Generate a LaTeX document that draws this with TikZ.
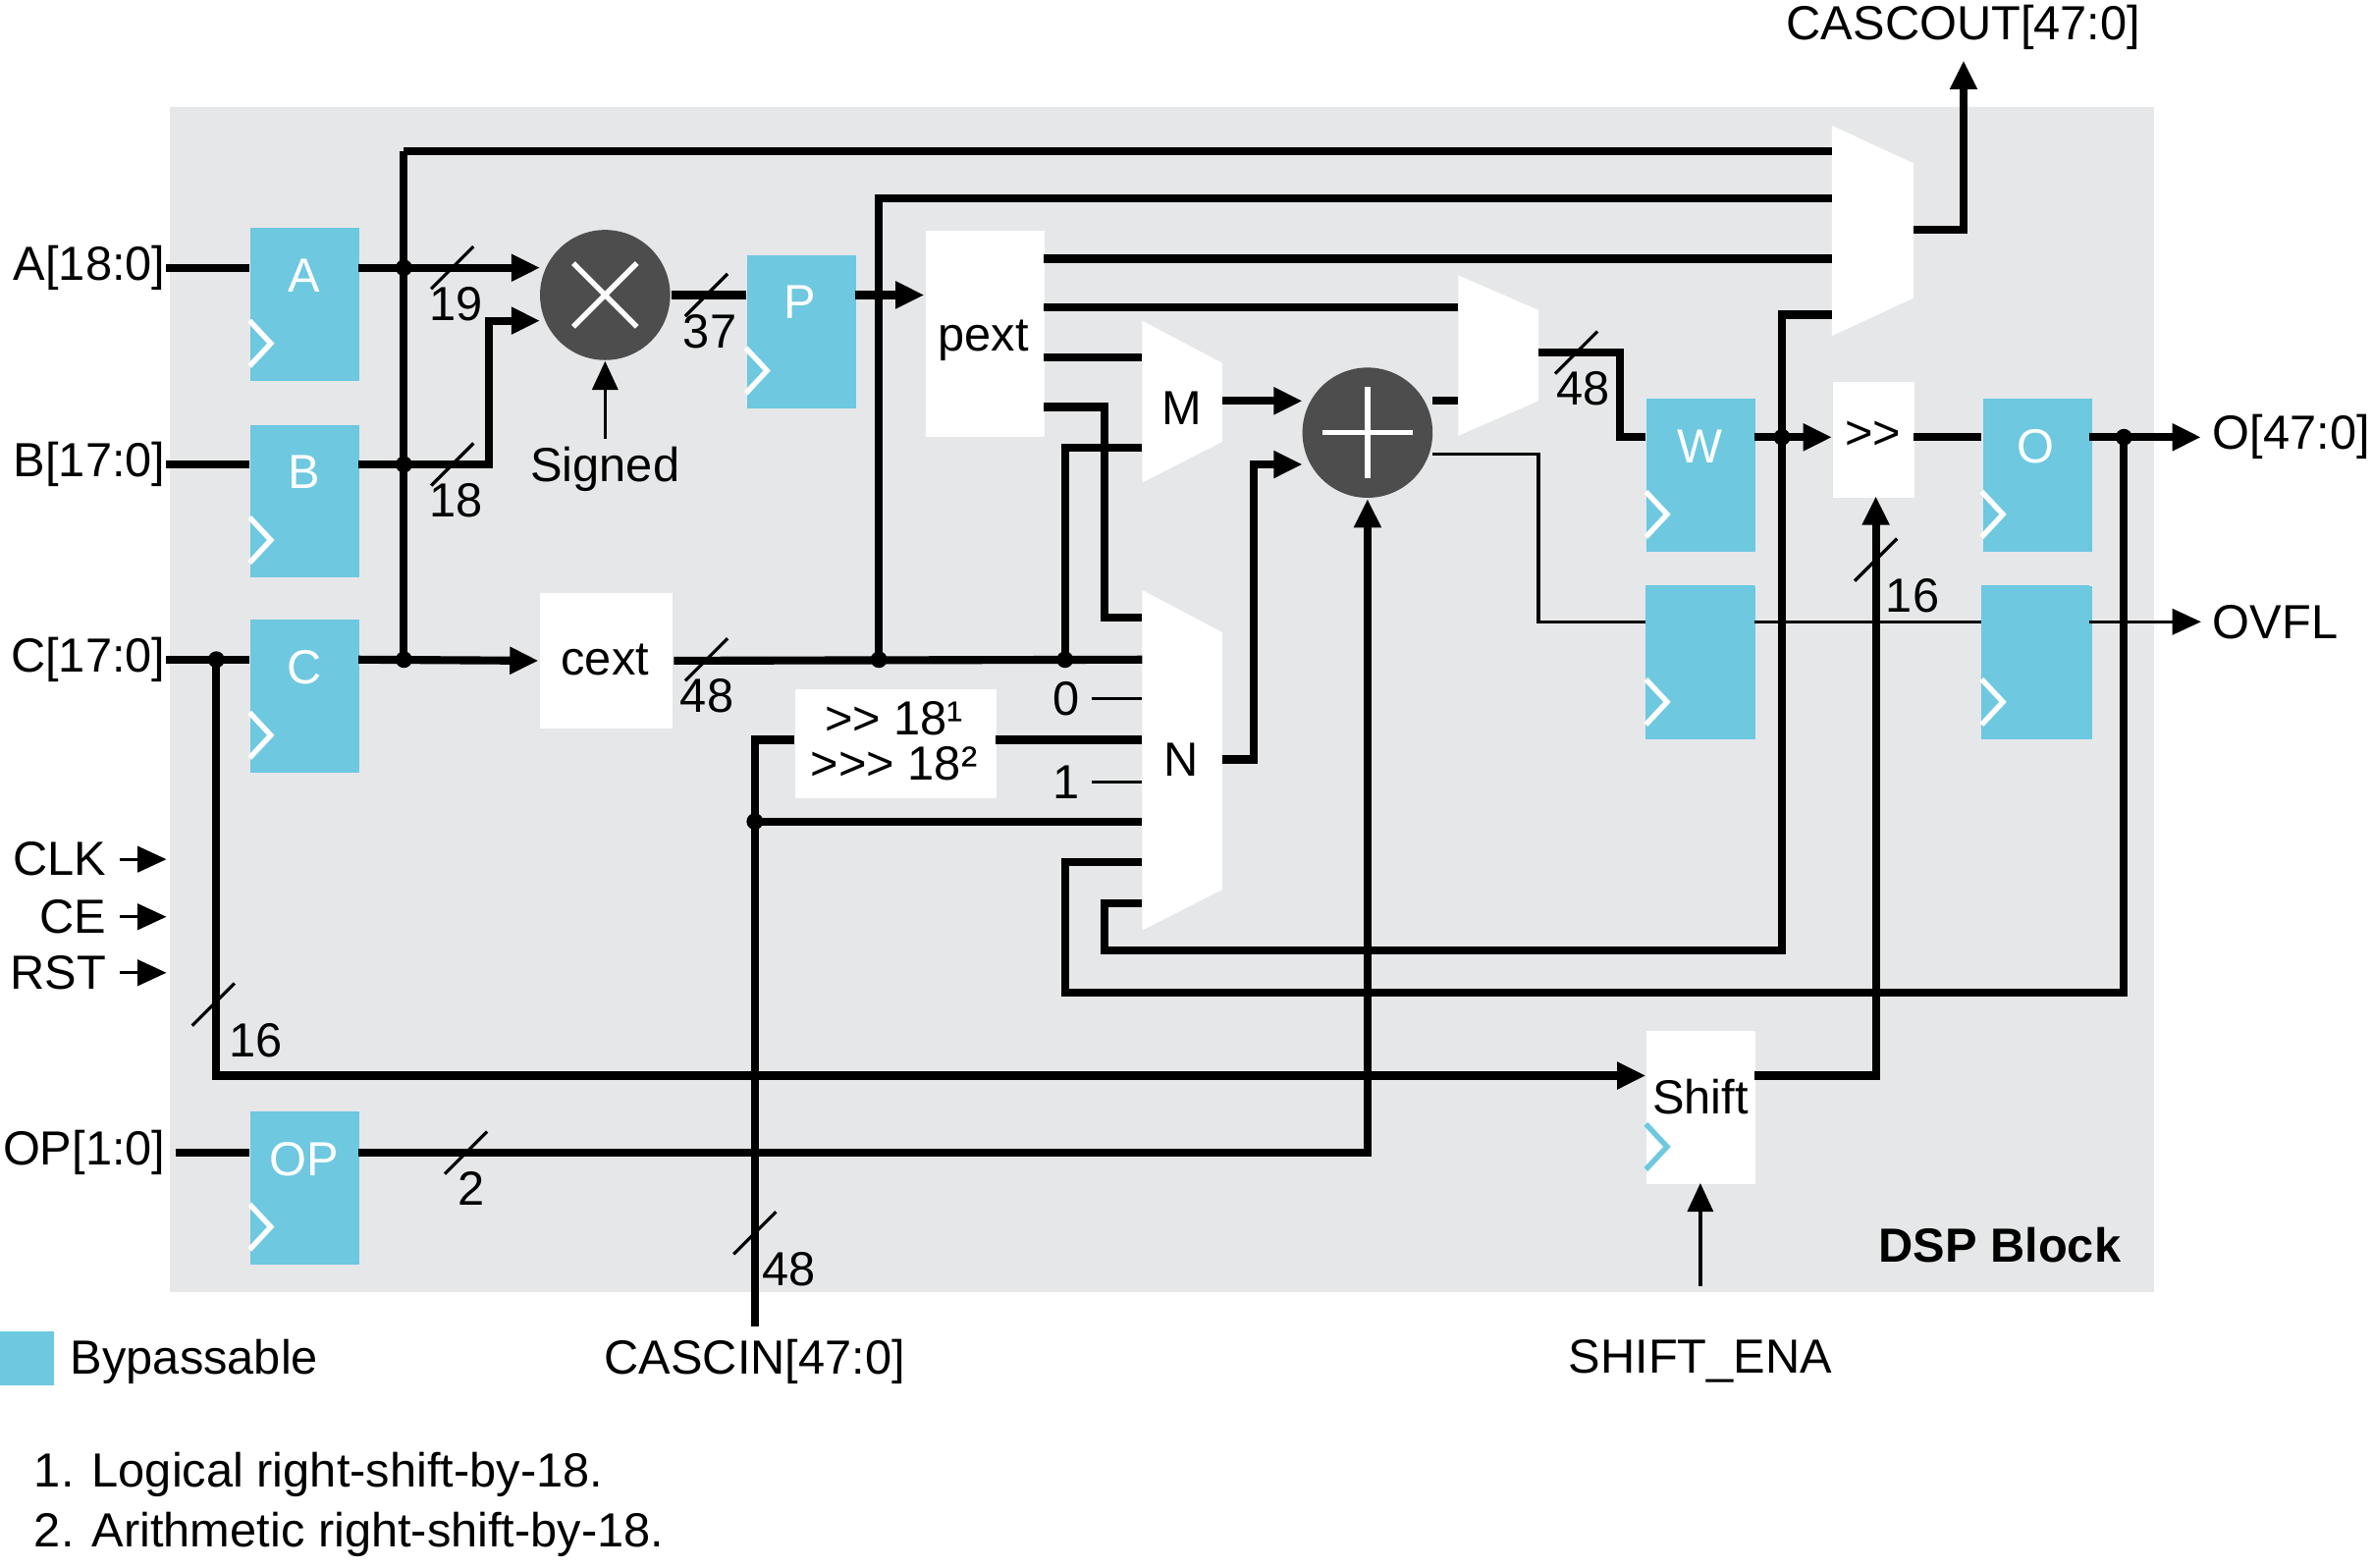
\documentclass[tikz,border=0pt]{standalone}
\usepackage{fontspec}
\setmainfont[Ligatures=NoCommon]{Liberation Sans}
\usetikzlibrary{arrows.meta,positioning}
\definecolor{bgray}{HTML}{E6E7E8}
\definecolor{bypass}{HTML}{6DC8E0}
\definecolor{opgray}{HTML}{4D4D4D}
\tikzset{
  wire/.style={line width=1.5pt},
  thin wire/.style={line width=0.6pt},
  tip/.style={-{Triangle[length=0.19cm,width=0.17cm]}},
  reg/.style={fill=bypass, draw=none, minimum width=0.72cm, minimum height=1.01cm, inner sep=0pt, anchor=north west},
  wbox/.style={fill=white, draw=none, inner sep=0pt, anchor=north west},
  op/.style={circle, fill=opgray, minimum size=0.86cm, inner sep=0pt},
  lbl/.style={font=\fontsize{9}{10}\selectfont, inner sep=0pt},
  dot/.style={circle, fill=black, minimum size=0.11cm, inner sep=0pt},
}
\newcommand\busslash[4]{%
  \draw[thin wire] (#1+-14,#2+14) -- (#1+14,#2+-14);
  \node[lbl, anchor=north west] at (#1+#4,#2+12) {#3};}
\newcommand\gt{{>}}
\begin{document}
\begin{tikzpicture}[x=0.01cm,y=-0.01cm]
\useasboundingbox (0,0) rectangle (1568,1036);
\fill[bgray] (112,71) rectangle (1424,854);

% Registers
\foreach \n/\x/\y/\t in {A/165/150/A,B/165/280/B,C/165/409/C,OP/165/734/OP,P/493/168/P,W/1088/263/W,Wo/1088/387/,O/1310/263/O,Oo/1310/387/} {
  \node[reg] (\n) at (\x,\y) {};
  \node[lbl, white] at (\x+36,\y+32) {\t};
  \draw[white, line width=1pt] (\x,\y+62) -- (\x+14,\y+77) -- (\x,\y+92);
}
% Shift register
\node[wbox, minimum width=0.72cm, minimum height=1.01cm] (shift) at (1088,681) {};
\node[lbl] at (1124,725) {Shift};
\draw[bypass, line width=1pt] (1088,743) -- (1102,758) -- (1088,773);

% Other blocks
\node[wbox, minimum width=0.79cm, minimum height=1.36cm] (pext) at (611,152) {};
\node[lbl] at (650,225) {pext};
\node[wbox, minimum width=0.88cm, minimum height=0.90cm] (cext) at (356,391) {};
\node[lbl] at (400,436) {cext};
\node[wbox, minimum width=1.33cm, minimum height=0.72cm] (sh18) at (525,455) {};
\node[lbl] at (591,475) {\gt\gt\ 18¹};
\node[lbl] at (591,505) {\gt\gt\gt\ 18²};
\node[wbox, minimum width=0.54cm, minimum height=0.76cm] (shr) at (1211,252) {};
\node[lbl] at (1238,288) {\gt\gt};

% Muxes
\fill[white] (755,212) -- (808,240) -- (808,292) -- (755,319) -- cycle;
\node[lbl] at (781,270) {M};
\fill[white] (755,390) -- (808,418) -- (808,588) -- (755,615) -- cycle;
\node[lbl] at (781,502) {N};
\fill[white] (964,182) -- (1017,205) -- (1017,265) -- (964,288) -- cycle;
\fill[white] (1211,83) -- (1265,108) -- (1265,197) -- (1211,222) -- cycle;

% Multiplier and adder
\node[op] (mul) at (400,195) {};
\draw[white, line width=1pt] (mul.center)+(-21,-21) -- +(21,21) (mul.center)+(-21,21) -- +(21,-21);
\node[op] (add) at (904,286) {};
\draw[white, line width=1pt] (add.center)+(-30,0) -- +(30,0) (add.center)+(0,-30) -- +(0,30);

% Inputs
\node[lbl, anchor=east] (ina) at (110,177) {A[18:0]};
\node[lbl, anchor=east] (inb) at (110,307) {B[17:0]};
\node[lbl, anchor=east] (inc) at (110,436) {C[17:0]};
\node[lbl, anchor=east] (inop) at (110,762) {OP[1:0]};
\foreach \t/\y in {CLK/568,CE/606,RST/643} {
  \node[lbl, anchor=east] (in\t) at (71,\y) {\t};
  \draw[thin wire, tip] (in\t.east)+(8,0) -- (110,\y);
}
\coordinate (jA) at (267,177);
\coordinate (jB) at (267,307);
\coordinate (jC) at (267,436);
\coordinate (jc0) at (143,436);
\coordinate (jc1) at (581,436);
\coordinate (jc2) at (704,436);
\coordinate (jcas) at (499,543);
\coordinate (jW) at (1178,289);
\coordinate (jO) at (1404,289);

\draw[wire] (ina.east) -- (165,177);
\draw[wire] (inb.east) -- (165,307);
\draw[wire] (inc.east) -- (165,436);
\draw[wire] (inop.east)+(6,0) -- (165,762);
\draw[wire, tip] (237,177) -- (357,177);
\draw[wire] (267,100) -- (jC);
\draw[wire] (267,100) -- (1211,100);
\draw[wire, tip] (237,307) -- (323,307) -- (323,212) -- (357,212);
\draw[wire, tip] (237,436) -- (cext.west);
\draw[wire] (cext.east) -- (755,436);
\draw[wire] (jc1) -- (581,131) -- (1211,131);
\draw[wire] (mul.east) -- (493,195);
\draw[wire, tip] (565,195) -- (611,195);
\draw[wire] (690,171) -- (1211,171);
\draw[wire] (690,203) -- (964,203);
\draw[wire] (690,236) -- (755,236);
\draw[wire] (690,269) -- (730,269) -- (730,408) -- (755,408);
\draw[wire] (jc2) -- (704,296) -- (755,296);
\draw[wire, tip] (808,265) -- (861,265);
\draw[wire, tip] (808,502) -- (829,502) -- (829,307) -- (861,307);
\draw[wire] (947,265) -- (964,265);
\draw[thin wire, tip] (947,300) -- (1017,300) -- (1017,411) -- (1455,411);
\draw[wire] (1017,233) -- (1071,233) -- (1071,289) -- (1088,289);
\draw[wire, tip] (1160,289) -- (1211,289);
\draw[wire] (jW) -- (1178,208) -- (1211,208);
\draw[wire] (jW) -- (1178,628) -- (730,628) -- (730,597) -- (755,597);
\draw[wire] (1265,289) -- (1310,289);
\draw[wire, tip] (1381,289) -- (1455,289);
\draw[wire] (jO) -- (1404,656) -- (704,656) -- (704,570) -- (755,570);
\draw[wire, tip] (1265,152) -- (1298,152) -- (1298,40);
\draw[thin wire] (722,462) -- (755,462);
\draw[thin wire] (722,517) -- (755,517);
\node[lbl] at (705,462) {0};
\node[lbl] at (705,517) {1};
\draw[wire] (658,489) -- (755,489);
\draw[wire] (499,877) -- (jcas) -- (755,543);
\draw[wire] (jcas) -- (499,489) -- (525,489);
\draw[wire, tip] (jc0) -- (143,711) -- (1088,711);
\draw[wire, tip] (1160,711) -- (1240,711) -- (1240,328);
\draw[wire, tip] (237,762) -- (904,762) -- (add.south);
\draw[thin wire, tip] (400,290) -- (mul.south);
\draw[thin wire, tip] (1124,850) -- (1124,782);

% Redraw registers over OVFL wire
\fill[bypass] (1088,387) rectangle (1160,489);
\fill[bypass] (1310,387) rectangle (1381,489);
\foreach \x in {1088,1310} \draw[white, line width=1pt] (\x,449) -- (\x+14,464) -- (\x,479);

% Junctions
\foreach \j in {jA,jB,jC,jc0,jc1,jc2,jcas,jW,jO} \node[dot] at (\j) {};

% Bus widths
\busslash{299}{177}{19}{-16}
\busslash{299}{307}{18}{-16}
\busslash{467}{195}{37}{-16}
\busslash{467}{436}{48}{-18}
\busslash{1042}{233}{48}{-14}
\busslash{141}{664}{16}{10}
\busslash{1240}{370}{16}{6}
\busslash{308}{762}{2}{-6}
\busslash{499}{815}{48}{4}

% Labels
\node[lbl] at (400,310) {Signed};
\node[lbl] at (1298,18) {CASCOUT[47:0]};
\node[lbl, anchor=west] at (1462,289) {O[47:0]};
\node[lbl, anchor=west] at (1462,411) {OVFL};
\node[lbl] at (499,900) {CASCIN[47:0]};
\node[lbl] at (1124,900) {SHIFT\_ENA};
\node[lbl, font=\fontsize{9}{10}\selectfont\bfseries] at (1322,823) {DSP Block};
\fill[bypass] (0,880) rectangle (36,916);
\node[lbl, anchor=west] at (46,900) {Bypassable};
\node[lbl, anchor=west] at (22,975) {1. Logical right-shift-by-18.};
\node[lbl, anchor=west] at (22,1014) {2. Arithmetic right-shift-by-18.};
\end{tikzpicture}
\end{document}
